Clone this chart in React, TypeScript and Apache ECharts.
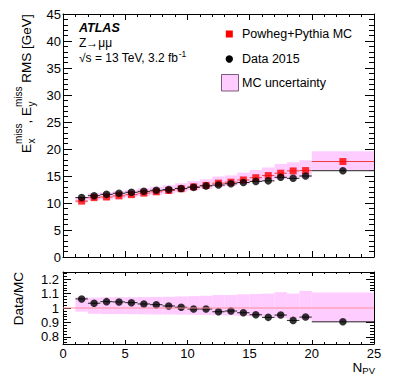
import React, { useEffect, useRef } from "react";
import * as echarts from "echarts";

// ---- data ----
const binLow = [1, 2, 3, 4, 5, 6, 7, 8, 9, 10, 11, 12, 13, 14, 15, 16, 17, 18, 19, 20];
const binHigh = [2, 3, 4, 5, 6, 7, 8, 9, 10, 11, 12, 13, 14, 15, 16, 17, 18, 19, 20, 25];
const dataRms = [11.0, 11.35, 11.6, 11.8, 11.98, 12.16, 12.35, 12.48, 12.7, 12.9, 13.17, 13.32, 13.57, 13.8, 14.0, 14.1, 14.76, 14.57, 15.0, 15.98];
const mcRms = [10.35, 10.99, 11.11, 11.32, 11.55, 11.83, 12.07, 12.31, 12.64, 12.99, 13.26, 13.68, 13.86, 14.27, 14.69, 15.08, 15.52, 15.94, 16.01, 17.68];
const dataOverMc = [1.063, 1.033, 1.044, 1.042, 1.037, 1.028, 1.023, 1.014, 1.005, 0.993, 0.993, 0.974, 0.979, 0.967, 0.953, 0.935, 0.951, 0.914, 0.937, 0.904];
const mcUncUp = [1.075, 1.072, 1.075, 1.075, 1.075, 1.076, 1.077, 1.078, 1.08, 1.082, 1.085, 1.09, 1.09, 1.095, 1.097, 1.1, 1.11, 1.1, 1.119, 1.108];
const mcUncDown = [0.975, 0.96, 0.958, 0.958, 0.957, 0.956, 0.955, 0.955, 0.954, 0.953, 0.952, 0.95, 0.948, 0.945, 0.942, 0.94, 0.93, 0.925, 0.92, 0.905];
const legendLabels = ["Powheg+Pythia MC", "Data 2015", "MC uncertainty"];

const FONT = "Liberation Sans";
const PINK = "#ffccff";
const RED = "#ff0000";

let measureCtx: CanvasRenderingContext2D | null = null;
function tw(t: string, size: number, weight = "normal", style = "normal"): number {
  if (!measureCtx) measureCtx = document.createElement("canvas").getContext("2d");
  if (!measureCtx) return t.length * size * 0.55;
  measureCtx.font = `${style} ${weight} ${size}px "${FONT}", Arial, sans-serif`;
  return measureCtx.measureText(t).width;
}

function txt(text: string, x: number, y: number, size: number, extra: any = {}) {
  return {
    type: "text",
    x,
    y,
    silent: true,
    style: {
      text,
      fontSize: size,
      fontFamily: FONT,
      fill: "#000",
      align: "left",
      verticalAlign: "middle",
      textAlign: "left",
      textVerticalAlign: "middle",
      ...extra,
    },
  };
}

const tickStyle = { color: "#000", width: 1 };

function xAx(grid: number, pos: string, showLabel: boolean, major: number, minor: number) {
  return {
    type: "value",
    gridIndex: grid,
    position: pos,
    min: 0,
    max: 25,
    interval: 5,
    axisLine: { show: true, onZero: false, lineStyle: { color: "#000", width: 1 } },
    axisTick: { show: true, inside: true, length: major, lineStyle: tickStyle },
    minorTick: { show: true, splitNumber: 5, length: minor, lineStyle: tickStyle },
    axisLabel: { show: showLabel, margin: 3, fontSize: 13, fontFamily: FONT, color: "#000" },
    splitLine: { show: false },
    minorSplitLine: { show: false },
  };
}

function yTop(pos: string, showLabel: boolean) {
  return {
    type: "value",
    gridIndex: 0,
    position: pos,
    min: 0,
    max: 45,
    interval: 5,
    axisLine: { show: true, onZero: false, lineStyle: { color: "#000", width: 1 } },
    axisTick: { show: true, inside: true, length: 9, lineStyle: tickStyle },
    minorTick: { show: true, splitNumber: 5, length: 5, lineStyle: tickStyle },
    axisLabel: { show: showLabel, margin: 2, fontSize: 13, fontFamily: FONT, color: "#000" },
    splitLine: { show: false },
    minorSplitLine: { show: false },
  };
}

function yRatio(pos: string, showLabel: boolean) {
  return {
    type: "value",
    gridIndex: 1,
    position: pos,
    min: 0.75,
    max: 1.25,
    splitNumber: 5,
    axisLine: { show: true, onZero: false, lineStyle: { color: "#000", width: 1 } },
    axisTick: { show: true, inside: true, length: 8, lineStyle: tickStyle },
    minorTick: { show: true, splitNumber: 5, length: 4, lineStyle: tickStyle },
    axisLabel: {
      show: showLabel,
      margin: 4,
      fontSize: 13,
      fontFamily: FONT,
      color: "#000",
      formatter: (v: number) =>
        Math.abs(v * 10 - Math.round(v * 10)) < 1e-6 ? String(Math.round(v * 10) / 10) : "",
    },
    splitLine: { show: false },
    minorSplitLine: { show: false },
  };
}

function bandRender(_p: any, api: any) {
  const a = api.coord([api.value(0), api.value(3)]);
  const b = api.coord([api.value(1), api.value(2)]);
  return {
    type: "rect",
    shape: { x: a[0], y: a[1], width: b[0] - a[0], height: b[1] - a[1] },
    style: { fill: PINK },
  };
}

function hbarRender(color: string) {
  return (_p: any, api: any) => {
    const a = api.coord([api.value(0), api.value(2)]);
    const b = api.coord([api.value(1), api.value(2)]);
    return {
      type: "line",
      shape: { x1: a[0], y1: a[1], x2: b[0], y2: b[1] },
      style: { stroke: color, lineWidth: 1 },
    };
  };
}

function buildYTitle() {
  const main = 13.5;
  const scr = 10;
  const children: any[] = [];
  let x = 0;
  const dMain = -4.6;
  const dSup = -12.5;
  const dSub = 0.8;
  const segs: any[] = [
    { t: "E" },
    { sup: "miss", sub: "x" },
    { t: ", E" },
    { sup: "miss", sub: "y" },
    { t: " RMS [GeV]" },
  ];
  for (const s of segs) {
    if (s.t) {
      children.push(txt(s.t, x, dMain, main));
      x += tw(s.t, main);
    } else {
      children.push(txt(s.sup, x, dSup, scr));
      children.push(txt(s.sub, x + 0.5, dSub, scr));
      x += Math.max(tw(s.sup, scr), tw(s.sub, scr));
    }
  }
  return { type: "group", x: 31, y: 153, rotation: Math.PI / 2, children };
}

export default function App() {
  const ref = useRef<HTMLDivElement>(null);

  useEffect(() => {
    if (!ref.current) return;
    const chart = echarts.init(ref.current, null, { renderer: "svg" });

    const centers = binLow.map((lo, i) => (lo + binHigh[i]) / 2);
    const bandTop = binLow.map((lo, i) => [lo, binHigh[i], mcRms[i] * mcUncDown[i], mcRms[i] * mcUncUp[i]]);
    const bandRatio = binLow.map((lo, i) => [lo, binHigh[i], mcUncDown[i], mcUncUp[i]]);
    const mcBars = binLow.map((lo, i) => [lo, binHigh[i], mcRms[i]]);
    const dataBars = binLow.map((lo, i) => [lo, binHigh[i], dataRms[i]]);
    const ratioBars = binLow.map((lo, i) => [lo, binHigh[i], dataOverMc[i]]);

    // N_PV
    const nSize = 13.5;
    const pvSize = 9.5;
    const wPV = tw("PV", pvSize);
    const wN = tw("N", nSize);
    const nX = 375 - wPV - wN;

    const sqrtMain = "√s = 13 TeV, 3.2 fb";
    const wSqrt = tw(sqrtMain, 12);

    const graphic: any[] = [
      buildYTitle(),
      {
        type: "text",
        x: 18.3,
        y: 272,
        rotation: Math.PI / 2,
        silent: true,
        style: {
          text: "Data/MC",
          fontSize: 13.5,
          fontFamily: FONT,
          fill: "#000",
          align: "right",
          verticalAlign: "middle",
          textAlign: "right",
          textVerticalAlign: "middle",
        },
      },
      txt("N", nX, 367.2, nSize),
      txt("PV", nX + wN, 370.5, pvSize),
      txt("ATLAS", 79, 28.3, 12.5, { fontWeight: "bold", fontStyle: "italic" }),
      txt("Z→μμ", 79, 42.5, 12),
      txt(sqrtMain, 79, 58, 12),
      txt("-1", 79 + wSqrt + 0.5, 53.5, 8.5),
      // legend
      {
        type: "rect",
        silent: true,
        shape: { x: 225.8, y: 30.5, width: 7, height: 7 },
        style: { fill: RED },
      },
      txt(legendLabels[0], 242, 34, 12.5),
      {
        type: "circle",
        silent: true,
        shape: { cx: 229.3, cy: 59, r: 3.7 },
        style: { fill: "#000" },
      },
      txt(legendLabels[1], 242, 59, 12.5),
      {
        type: "rect",
        silent: true,
        shape: { x: 221.5, y: 74.5, width: 17, height: 16.5 },
        style: { fill: PINK, stroke: "#7a5a7a", lineWidth: 1 },
      },
      txt(legendLabels[2], 242, 83, 12.5),
    ];

    const option: any = {
      animation: false,
      backgroundColor: "#fff",
      grid: [
        { left: 63, top: 14, width: 311, height: 243, containLabel: false },
        { left: 63, top: 272, width: 311, height: 72, containLabel: false },
      ],
      xAxis: [
        xAx(0, "bottom", false, 6, 3),
        xAx(0, "top", false, 6, 3),
        xAx(1, "bottom", true, 4, 2),
        xAx(1, "top", false, 4, 2),
      ],
      yAxis: [yTop("left", true), yTop("right", false), yRatio("left", true), yRatio("right", false)],
      series: [
        {
          type: "custom",
          xAxisIndex: 0,
          yAxisIndex: 0,
          renderItem: bandRender,
          data: bandTop,
          silent: true,
          clip: true,
        },
        {
          type: "custom",
          xAxisIndex: 0,
          yAxisIndex: 0,
          renderItem: hbarRender("#f03a3a"),
          data: mcBars,
          silent: true,
        },
        {
          type: "scatter",
          xAxisIndex: 0,
          yAxisIndex: 0,
          symbol: "rect",
          symbolSize: 7,
          itemStyle: { color: RED },
          data: centers.map((c, i) => [c, mcRms[i]]),
          silent: true,
        },
        {
          type: "custom",
          xAxisIndex: 0,
          yAxisIndex: 0,
          renderItem: hbarRender("#222"),
          data: dataBars,
          silent: true,
        },
        {
          type: "scatter",
          xAxisIndex: 0,
          yAxisIndex: 0,
          symbol: "circle",
          symbolSize: 7.5,
          itemStyle: { color: "#000" },
          data: centers.map((c, i) => [c, dataRms[i]]),
          silent: true,
        },
        {
          type: "custom",
          xAxisIndex: 2,
          yAxisIndex: 2,
          renderItem: bandRender,
          data: bandRatio,
          silent: true,
          clip: true,
        },
        {
          type: "line",
          xAxisIndex: 2,
          yAxisIndex: 2,
          data: [
            [0, 1],
            [25, 1],
          ],
          symbol: "none",
          lineStyle: { color: "#ff8a9a", width: 1.2 },
          silent: true,
        },
        {
          type: "custom",
          xAxisIndex: 2,
          yAxisIndex: 2,
          renderItem: hbarRender("#222"),
          data: ratioBars,
          silent: true,
        },
        {
          type: "scatter",
          xAxisIndex: 2,
          yAxisIndex: 2,
          symbol: "circle",
          symbolSize: 7.5,
          itemStyle: { color: "#000" },
          data: centers.map((c, i) => [c, dataOverMc[i]]),
          silent: true,
        },
      ],
      graphic,
    };

    chart.setOption(option);
    return () => chart.dispose();
  }, []);

  return (
    <div
      ref={ref}
      style={{ position: "fixed", left: 0, top: 0, width: 395, height: 379, background: "#fff" }}
    />
  );
}
